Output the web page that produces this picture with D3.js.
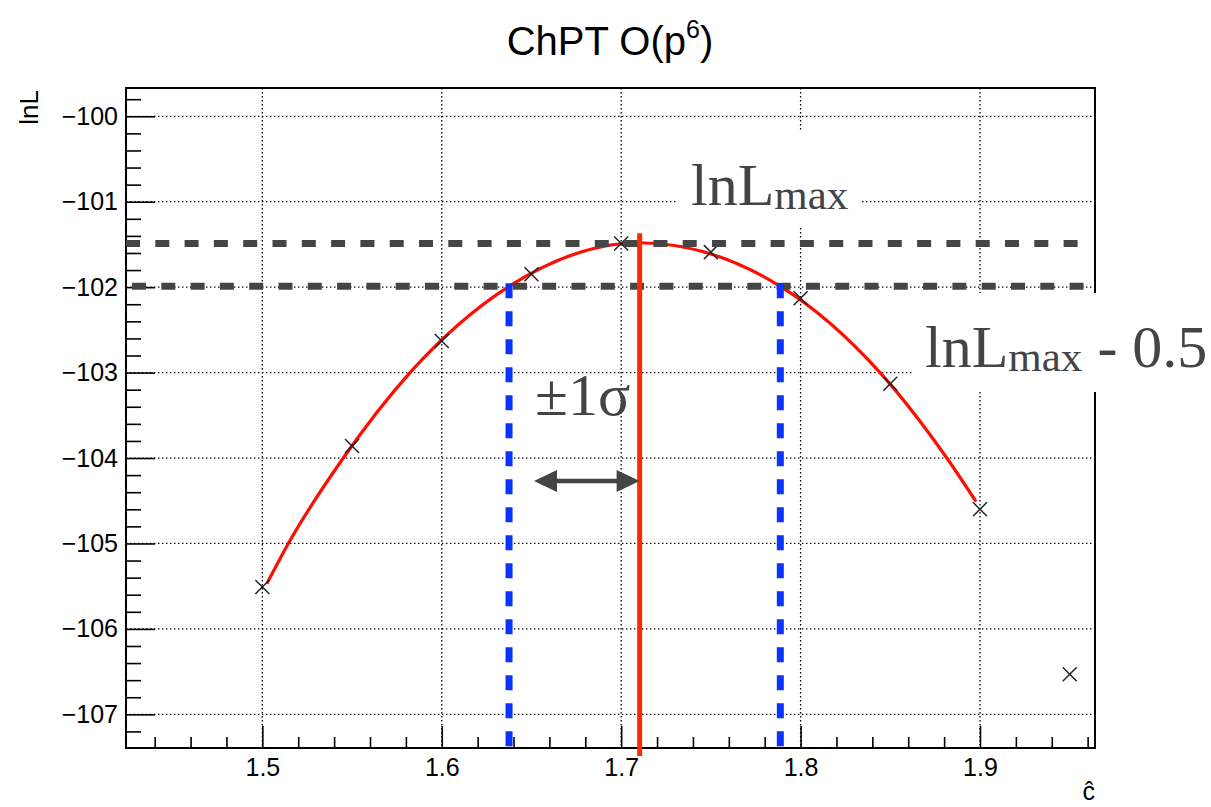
<html>
<head>
<script src="https://cdnjs.cloudflare.com/ajax/libs/d3/7.8.5/d3.min.js"></script>
<style>
  body { margin: 0; background: #fff; }
  text { font-family: 'Liberation Sans', Arial, sans-serif; }
  .ann { font-family: 'Liberation Serif', 'Times New Roman', serif; fill: #444; }
</style>
</head>
<body>
<script>
// measured points of the likelihood scan
var cHat = [1.5, 1.55, 1.6, 1.65, 1.7, 1.75, 1.8, 1.85, 1.9, 1.95];
var lnL  = [-105.51, -103.86, -102.63, -101.85, -101.49, -101.59, -102.13, -103.13, -104.60, -106.53];

// red fit curve
var fitC = [1.5025, 1.5145, 1.5451, 1.5823, 1.6375, 1.7103, 1.7887, 1.8443, 1.8815, 1.8978];
var fitL = [-105.47, -105.0, -104.0, -103.0, -101.99, -101.48, -101.99, -103.0, -104.0, -104.51];

// annotation values
var lnLmax = -101.49;
var lnLhalf = -101.99;
var cBest = 1.7103;
var sigmaC = [1.6375, 1.7887];
var arrowC = [1.6514, 1.7103];
var arrowL = -104.27;

var xTicks = [1.5, 1.6, 1.7, 1.8, 1.9];
var yTicks = [-107, -106, -105, -104, -103, -102, -101, -100];

var W = 1211, H = 807;
var L = 126, R = 1095, T = 88, B = 748;

var svg = d3.select('body').append('svg').attr('width', W).attr('height', H);

var x = d3.scaleLinear().domain([1.424, 1.9641]).range([L, R]);
var y = d3.scaleLinear().domain([-107.394, -99.669]).range([B, T]);

var xMinor = d3.range(1.44, 1.97, 0.02).filter(function (d) {
    return xTicks.every(function (t) { return Math.abs(t - d) > 1e-6; });
});
var yMinor = d3.range(-107.2, -99.7, 0.2).filter(function (d) {
    return yTicks.every(function (t) { return Math.abs(t - d) > 1e-6; });
});

// dotted grid
var grid = svg.append('g').attr('stroke', '#000').attr('stroke-width', 1.3)
              .attr('stroke-dasharray', '1.4 2.6');
grid.selectAll('.gx').data(xTicks).enter().append('line')
    .attr('x1', x).attr('x2', x).attr('y1', T).attr('y2', B);
grid.selectAll('.gy').data(yTicks).enter().append('line')
    .attr('y1', y).attr('y2', y).attr('x1', L).attr('x2', R);

// axes, ticks pointing inwards
var ay = svg.append('g').attr('transform', 'translate(' + L + ',0)')
    .call(d3.axisLeft(y).tickValues(yTicks).tickSizeInner(-29).tickSizeOuter(0).tickPadding(8)
          .tickFormat(function (d) { return '\u2212' + Math.abs(d); }));
var ayMinor = svg.append('g').attr('transform', 'translate(' + L + ',0)')
    .call(d3.axisLeft(y).tickValues(yMinor).tickSize(-15).tickFormat(''));
var ax = svg.append('g').attr('transform', 'translate(0,' + B + ')')
    .call(d3.axisBottom(x).tickValues(xTicks).tickSizeInner(-22).tickSizeOuter(0).tickPadding(10)
          .tickFormat(d3.format('.1f')));
var axMinor = svg.append('g').attr('transform', 'translate(0,' + B + ')')
    .call(d3.axisBottom(x).tickValues(xMinor).tickSize(-11).tickFormat(''));

[ay, ayMinor, ax, axMinor].forEach(function (g) {
    g.select('.domain').remove();
    g.selectAll('line').attr('stroke', '#000').attr('stroke-width', 1.6);
    g.selectAll('text').attr('font-size', 25).attr('fill', '#000')
     .style('font-family', "'Liberation Sans', Arial, sans-serif");
});

// frame
svg.append('rect').attr('x', L).attr('y', T).attr('width', R - L).attr('height', B - T)
   .attr('fill', 'none').attr('stroke', '#000').attr('stroke-width', 2);

// fit curve
var line = d3.line().x(function (d, i) { return x(fitC[i]); })
                    .y(function (d) { return y(d); })
                    .curve(d3.curveMonotoneX);
svg.append('path').attr('d', line(fitL)).attr('fill', 'none')
   .attr('stroke', '#ff0d00').attr('stroke-width', 3.2);

// markers
var mk = svg.append('g').attr('stroke', '#222').attr('stroke-width', 1.5);
cHat.forEach(function (c, i) {
    var px = x(c), py = y(lnL[i]), s = 7;
    mk.append('line').attr('x1', px - s).attr('y1', py - s).attr('x2', px + s).attr('y2', py + s);
    mk.append('line').attr('x1', px - s).attr('y1', py + s).attr('x2', px + s).attr('y2', py - s);
});

// lnLmax and lnLmax - 0.5 lines
svg.append('line').attr('x1', L).attr('x2', 1080).attr('y1', y(lnLmax)).attr('y2', y(lnLmax))
   .attr('stroke', '#454545').attr('stroke-width', 7).attr('stroke-dasharray', '14 15.3');
svg.append('line').attr('x1', L).attr('x2', R).attr('y1', y(lnLhalf)).attr('y2', y(lnLhalf))
   .attr('stroke', '#454545').attr('stroke-width', 7).attr('stroke-dasharray', '14 15.3')
   .attr('stroke-dashoffset', -6);

// +-1 sigma lines
svg.selectAll('.sig').data(sigmaC).enter().append('line')
   .attr('x1', x).attr('x2', x).attr('y1', y(lnLhalf) - 3).attr('y2', B)
   .attr('stroke', '#0a33ff').attr('stroke-width', 7).attr('stroke-dasharray', '15 13');

// best value
svg.append('line').attr('x1', x(cBest)).attr('x2', x(cBest))
   .attr('y1', y(-101.37)).attr('y2', B + 8)
   .attr('stroke', '#ff2a00').attr('stroke-width', 5);

// double arrow
var ax0 = x(arrowC[0]), ax1 = x(arrowC[1]), ayy = y(arrowL), hl = 23, hh = 11;
svg.append('line').attr('x1', ax0 + hl - 2).attr('x2', ax1 - hl + 2).attr('y1', ayy).attr('y2', ayy)
   .attr('stroke', '#444').attr('stroke-width', 4.5);
svg.append('path').attr('fill', '#444')
   .attr('d', 'M' + ax0 + ',' + ayy + 'L' + (ax0 + hl) + ',' + (ayy - hh) + 'L' + (ax0 + hl) + ',' + (ayy + hh) + 'Z');
svg.append('path').attr('fill', '#444')
   .attr('d', 'M' + ax1 + ',' + ayy + 'L' + (ax1 - hl) + ',' + (ayy - hh) + 'L' + (ax1 - hl) + ',' + (ayy + hh) + 'Z');

// label boxes
svg.append('rect').attr('x', 678).attr('y', 130).attr('width', 184).attr('height', 98).attr('fill', '#fff');
svg.append('rect').attr('x', 913).attr('y', 293).attr('width', 298).attr('height', 99).attr('fill', '#fff');

function lnLabel(px, py, rest) {
    var t = svg.append('text').attr('class', 'ann').attr('x', px).attr('y', py).attr('font-size', 60);
    t.append('tspan').text('lnL');
    t.append('tspan').attr('font-size', 43).attr('dy', 4).text('max');
    if (rest) t.append('tspan').attr('dy', -4).text(rest);
}
lnLabel(691, 205);
lnLabel(925, 367, ' - 0.5');

svg.append('text').attr('class', 'ann').attr('x', 535).attr('y', 415).attr('font-size', 60)
   .text('\u00b11\u03c3');

// titles
var title = svg.append('text').attr('x', 610).attr('y', 55).attr('text-anchor', 'middle')
   .attr('font-size', 40).attr('fill', '#000');
title.append('tspan').text('ChPT O(p');
title.append('tspan').attr('font-size', 25).attr('dy', -17).text('6');
title.append('tspan').attr('dy', 17).text(')');

svg.append('text').attr('transform', 'translate(38,90) rotate(-90)').attr('text-anchor', 'end')
   .attr('font-size', 26).text('lnL');
svg.append('text').attr('x', R).attr('y', 800).attr('text-anchor', 'end')
   .attr('font-size', 25).text('\u0109');
</script>
</body>
</html>
